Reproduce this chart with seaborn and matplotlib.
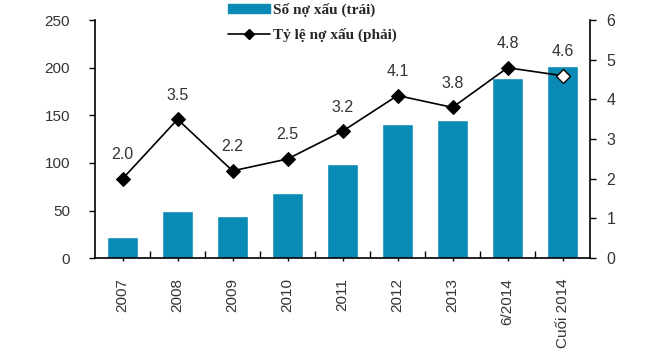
import numpy as np
import pandas as pd
import matplotlib
matplotlib.use("Agg")
import matplotlib.pyplot as plt
import seaborn as sns
from matplotlib.patches import Patch
from matplotlib.lines import Line2D

# data
periods = ["2007", "2008", "2009", "2010", "2011", "2012", "2013", "6/2014", "Cuối 2014"]
bad_debt = [22, 49, 44, 68, 99, 141, 145, 189, 202]
ratio = [2.0, 3.5, 2.2, 2.5, 3.2, 4.1, 3.8, 4.8, 4.6]
ratio_labels = ["2.0", "3.5", "2.2", "2.5", "3.2", "4.1", "3.8", "4.8", "4.6"]

bar_color = "#0a8bb5"

sns.set_style("white")
plt.rcParams["font.family"] = ["Liberation Sans", "DejaVu Sans"]

fig = plt.figure(figsize=(6.6, 3.6), dpi=100)
ax = fig.add_axes([0.144, 0.283, 0.75, 0.661])

df = pd.DataFrame({"period": periods, "debt": bad_debt, "ratio": ratio})
sns.barplot(data=df, x="period", y="debt", color=bar_color, width=0.55,
            saturation=1, ax=ax)
ax.set_xlim(-0.5, len(periods) - 0.5)
ax.set_ylim(0, 250)
ax.set_yticks([0, 50, 100, 150, 200, 250])
ax.set_xlabel("")
ax.set_ylabel("")

ax2 = ax.twinx()
x = np.arange(len(periods))
sns.lineplot(x=x[:-1], y=ratio[:-1], ax=ax2, color="black", lw=1.2,
             marker="D", markersize=7, markeredgecolor="black")
ax2.plot(x[-2:], ratio[-2:], color="black", lw=1.2)
ax2.plot(x[-1], ratio[-1], marker="D", markersize=7, markerfacecolor="white",
         markeredgecolor="black", lw=0)
ax2.set_ylim(0, 6)
ax2.set_yticks(range(7))

for xi, r, lab in zip(x, ratio, ratio_labels):
    ax2.annotate(lab, (xi, r), xytext=(0, 12), textcoords="offset points",
                 ha="center", va="bottom", fontsize=11.5, color="#333333")

for a in (ax, ax2):
    for s in a.spines.values():
        s.set_visible(False)
ax.spines["left"].set_visible(True)
ax.spines["bottom"].set_visible(True)
ax2.spines["right"].set_visible(True)
for s in (ax.spines["left"], ax.spines["bottom"], ax2.spines["right"]):
    s.set_color("black")
    s.set_linewidth(1.2)

ax.tick_params(axis="y", direction="out", length=4, width=1, labelsize=11,
               colors="black", labelcolor="#333333", left=True, pad=14)
ax2.tick_params(axis="y", direction="out", length=4, width=1, labelsize=11.5,
                colors="black", labelcolor="#333333", right=True, pad=8)
ax.set_xticks(x)
ax.set_xticklabels(periods, rotation=90, fontsize=11, color="#333333")
ax.tick_params(axis="x", direction="inout", length=5, width=1, bottom=True,
               colors="black", labelcolor="#333333", pad=12)
ax.set_xticks(np.arange(0.5, len(periods) - 0.5), minor=True)
ax.tick_params(axis="x", which="minor", direction="in", length=5, width=1,
               bottom=True, color="black")

handles = [Patch(facecolor=bar_color, edgecolor=bar_color),
           Line2D([0], [0], color="black", lw=1.2, marker="D", markersize=5)]
fig.legend(handles, ["Số nợ xấu (trái)", "Tỷ lệ nợ xấu (phải)"],
           loc="upper left", bbox_to_anchor=(0.325, 1.03), frameon=False,
           prop={"family": ["Liberation Serif", "DejaVu Serif"], "size": 11,
                 "weight": "bold"},
           handlelength=2.7, handleheight=0.6, handletextpad=0.2,
           labelspacing=0.7)

fig.savefig("out.png", dpi=100)
